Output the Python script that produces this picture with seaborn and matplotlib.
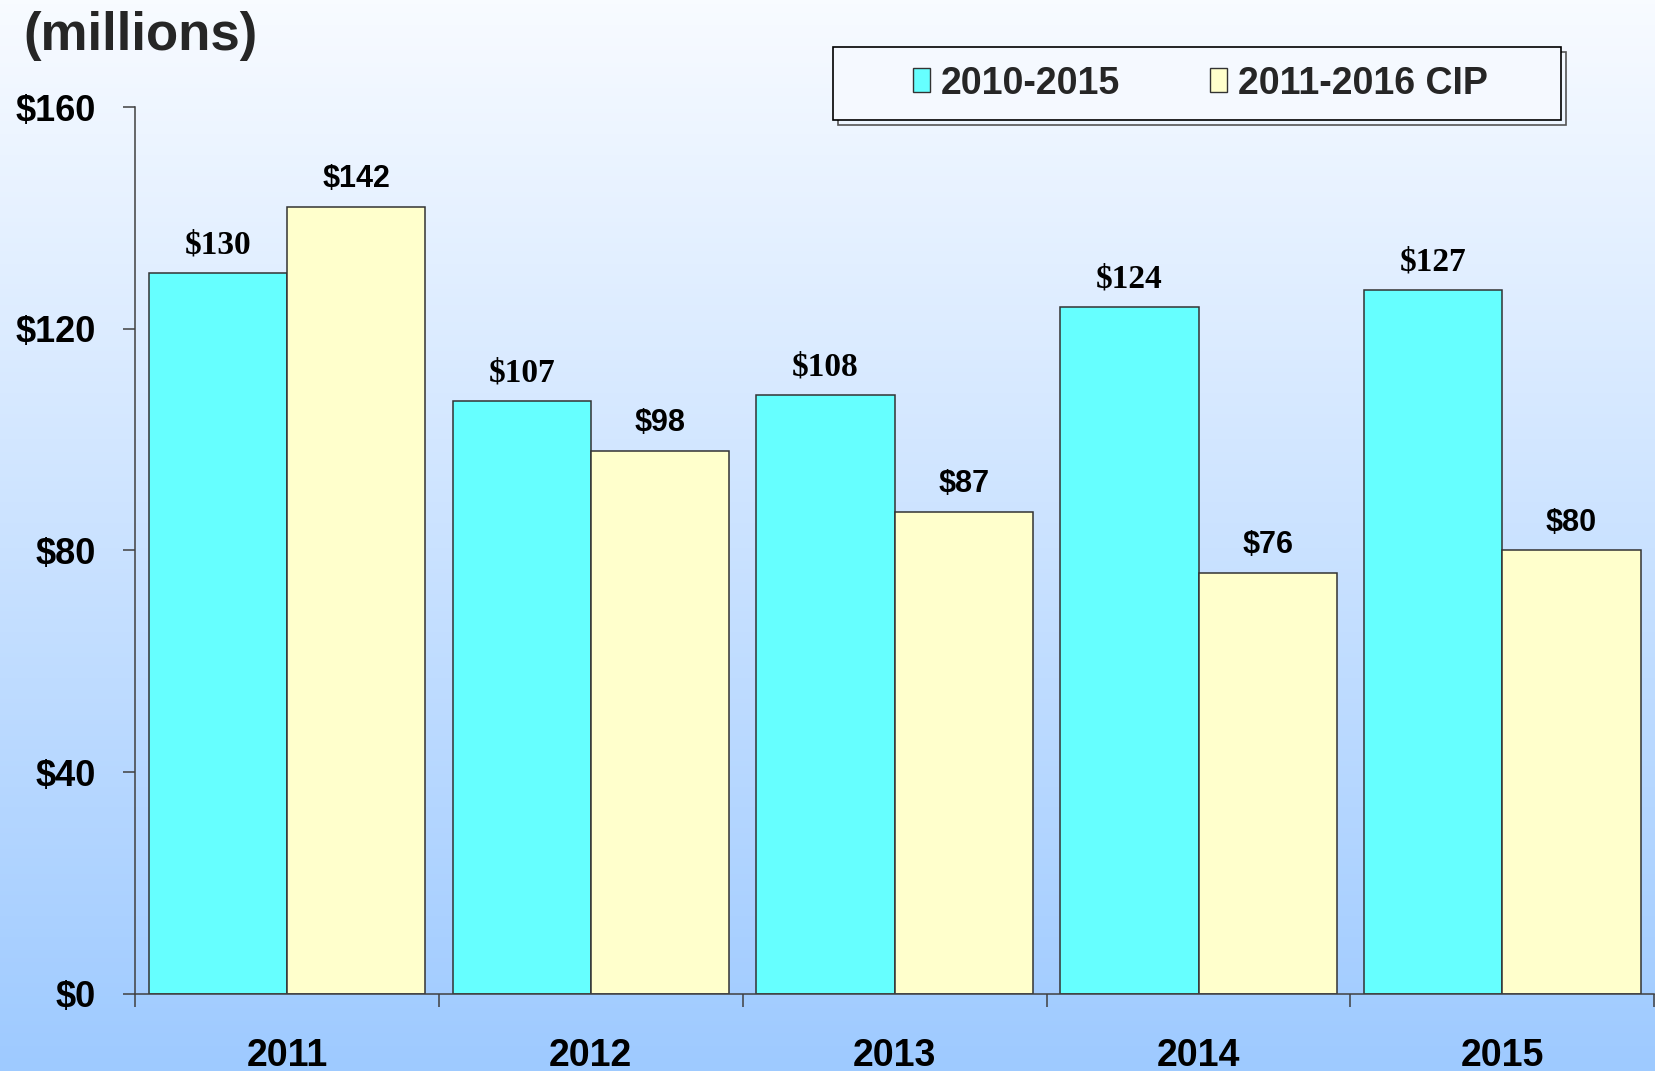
import numpy as np
import pandas as pd
import matplotlib
matplotlib.use('Agg')
import matplotlib.pyplot as plt
import seaborn as sns
from matplotlib.colors import LinearSegmentedColormap
from matplotlib.patches import Rectangle
from matplotlib.ticker import FixedLocator

# data (millions of dollars)
years = ['2011', '2012', '2013', '2014', '2015']
plan_2010 = [130, 107, 108, 124, 127]
plan_2011 = [142, 98, 87, 76, 80]
series = ['2010-2015', '2011-2016 CIP']
colors = ['#66FFFF', '#FFFFCC']
yticks = [0, 40, 80, 120, 160]

df = pd.DataFrame({
    'year': years * 2,
    'value': plan_2010 + plan_2011,
    'plan': [series[0]] * len(years) + [series[1]] * len(years),
})

sns.set_theme(style='white')
plt.rcParams['font.family'] = ['Liberation Sans', 'DejaVu Sans']

fig = plt.figure(figsize=(16.56, 10.71), dpi=100)

# gradient background
bg = fig.add_axes([0, 0, 1, 1], zorder=0)
grad = np.linspace(0, 1, 256).reshape(-1, 1)
cmap = LinearSegmentedColormap.from_list('bg', ['#F8FBFF', '#9ECAFF'])
bg.imshow(grad, aspect='auto', cmap=cmap, extent=[0, 1, 0, 1])
bg.set_axis_off()

ax = fig.add_axes([0.0815, 0.072, 0.9175, 0.828], zorder=1)
ax.patch.set_alpha(0)
sns.barplot(data=df, x='year', y='value', hue='plan', palette=colors,
            saturation=1, width=0.91, edgecolor='#333333', linewidth=1.1,
            legend=False, ax=ax)

# value labels: first series serif, second sans
for cont, vals, fam, fs in zip(ax.containers, [plan_2010, plan_2011],
                               ['Liberation Serif', 'Liberation Sans'], [24, 22]):
    ax.bar_label(cont, labels=['$%d' % v for v in vals], padding=9,
                 fontsize=fs, fontweight='bold', family=fam, color='black')

ax.set_ylim(0, 160)
ax.set_xlim(-0.5, 4.5)
ax.set_yticks(yticks)
ax.set_yticklabels(['$%d' % v for v in yticks])
ax.xaxis.set_minor_locator(FixedLocator(np.arange(-0.5, 5, 1)))
ax.tick_params(axis='y', which='major', left=True, length=9, width=1.1,
               color='#404040', pad=19, labelsize=26)
ax.tick_params(axis='x', which='major', bottom=False, length=0, pad=32,
               labelsize=27)
ax.tick_params(axis='x', which='minor', bottom=True, length=9, width=1.1,
               color='#404040')
for lab in ax.get_yticklabels() + ax.get_xticklabels():
    lab.set_fontweight('bold')
    lab.set_color('black')

sns.despine(ax=ax, top=True, right=True)
for s in ['left', 'bottom']:
    ax.spines[s].set_color('#404040')
    ax.spines[s].set_linewidth(1.1)
ax.set_xlabel('')
ax.set_ylabel('')

fig.text(0.014, 0.966, '(millions)', fontsize=38, fontweight='bold',
         ha='left', va='center')

# legend with double border
fig.add_artist(Rectangle((0.506, 0.883), 0.4395, 0.068, transform=fig.transFigure,
                         fill=False, edgecolor='#555555', linewidth=1.2))
fig.add_artist(Rectangle((0.503, 0.888), 0.4395, 0.068, transform=fig.transFigure,
                         facecolor='#F5F9FF', edgecolor='black', linewidth=1.2))
handles = [Rectangle((0, 0), 1, 1, facecolor=c, edgecolor='#333333', linewidth=1)
           for c in colors]
leg = fig.legend(handles, series, loc='center', bbox_to_anchor=(0.725, 0.922),
                 ncol=2, frameon=False, handlelength=0.45, handleheight=0.6,
                 handletextpad=0.3, columnspacing=2.4,
                 prop={'weight': 'bold', 'size': 27})
leg.set_zorder(5)

fig.savefig('out.png', dpi=100)
